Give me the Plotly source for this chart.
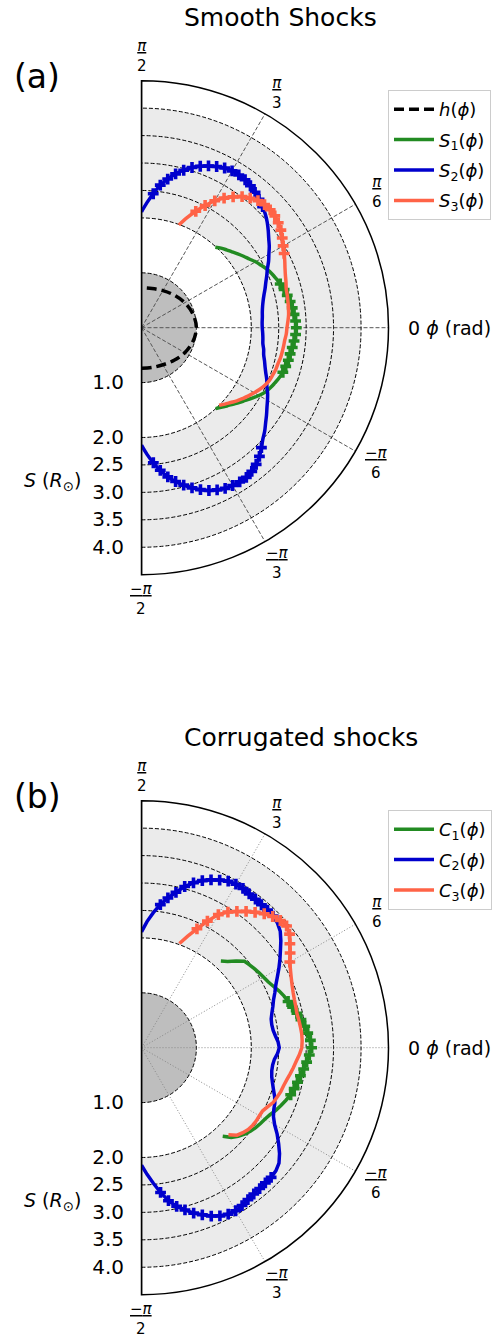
import numpy as np
import plotly.graph_objects as go

FONT = "DejaVu Sans"
GREEN = "#228B22"
BLUE = "#0000CD"
ORANGE = "#FF6347"
BAND_GRAY = "#ebebeb"
SUN_GRAY = "#bebebe"

# ---- axes ----
ANG_TICKS = [-90, -60, -30, 0, 30, 60, 90]
ANG_LABELS = [
    "<u>−<i>π</i></u><br>2",
    "<u>−<i>π</i></u><br>3",
    "<u>−<i>π</i></u><br>6",
    "",
    "<u><i>π</i></u><br>6",
    "<u><i>π</i></u><br>3",
    "<u><i>π</i></u><br>2",
]
R_TICKS = [1.0, 2.0, 2.5, 3.0, 3.5, 4.0]
R_LABELS = ["1.0", "2.0", "2.5", "3.0", "3.5", "4.0"]
R_MAX = 4.5
SUN_RADIUS = 1.0
BAND_INNER = 2.0
BAND_OUTER = 4.0
STEP = 2.5  # angular sampling of the shock fronts (deg)

# ---- h(phi) ----
H_PHI = [-90, -75, -60, -45, -30, -15, 0, 15, 30, 45, 60, 75, 90]
H_R = [0.74, 0.75, 0.78, 0.84, 0.91, 0.97, 1.00, 0.97, 0.91, 0.84, 0.78, 0.74, 0.73]

# ---- smooth shocks (panel a) ----
S1_START = 47.5
S1_R = [1.99, 2.05, 2.10, 2.15, 2.21, 2.27, 2.33, 2.40, 2.46, 2.52, 2.57, 2.61, 2.65,
        2.69, 2.72, 2.75, 2.77, 2.79, 2.81, 2.82, 2.81, 2.79, 2.77, 2.75, 2.74, 2.72,
        2.70, 2.67, 2.63, 2.59, 2.54, 2.47, 2.39, 2.31, 2.24, 2.17, 2.11, 2.05, 2.00]
S1_MARKED = [(-17.5, 17.5)]

S2_START = 90.0
S2_R = [2.11, 2.28, 2.45, 2.62, 2.75, 2.87, 2.97, 3.06, 3.13, 3.19, 3.24, 3.28, 3.30,
        3.30, 3.29, 3.26, 3.22, 3.17, 3.12, 3.06, 2.99, 2.91, 2.83, 2.76, 2.68, 2.61,
        2.53, 2.47, 2.41, 2.36, 2.31, 2.27, 2.24, 2.22, 2.21, 2.20, 2.20,
        2.21, 2.22, 2.23, 2.26, 2.28, 2.32, 2.36, 2.41, 2.47, 2.52, 2.59, 2.65, 2.71,
        2.78, 2.85, 2.93, 3.00, 3.09, 3.18, 3.25, 3.30, 3.33, 3.33, 3.32, 3.30, 3.26,
        3.21, 3.14, 3.06, 2.97, 2.87, 2.76, 2.62, 2.47, 2.31, 2.14]
S2_MARKED = [(45, 85), (-85, -45)]

S3_START = 70.0
S3_R = [1.99, 2.17, 2.34, 2.51, 2.67, 2.80, 2.91, 3.01, 3.08, 3.14, 3.17, 3.18, 3.17,
        3.14, 3.10, 3.04, 2.98, 2.93, 2.88, 2.83, 2.79, 2.76, 2.73, 2.72, 2.71, 2.70,
        2.69, 2.67, 2.65,
        2.64, 2.62, 2.61, 2.60, 2.59, 2.57, 2.56, 2.54, 2.52, 2.48, 2.43, 2.37, 2.31,
        2.25, 2.19, 2.12, 2.06, 2.00]
S3_MARKED = [(27.5, 65)]

# ---- corrugated shocks (panel b) ----
C1_START = 47.5
C1_R = [2.14, 2.22, 2.34, 2.45, 2.48, 2.51, 2.54, 2.57, 2.60, 2.65, 2.71, 2.76, 2.80,
        2.85, 2.90, 2.95, 3.00, 3.04, 3.08, 3.10, 3.06, 3.02, 2.98, 2.94, 2.91, 2.88,
        2.85, 2.80, 2.75, 2.70, 2.64, 2.60, 2.57, 2.54, 2.50, 2.45, 2.39, 2.31, 2.19]
C1_MARKED = [(-17.5, 17.5)]

C2_START = 90.0
C2_R = [2.11, 2.30, 2.47, 2.63, 2.77, 2.90, 3.04, 3.15, 3.24, 3.31, 3.37, 3.42, 3.44,
        3.44, 3.42, 3.41, 3.40, 3.40, 3.39, 3.36, 3.30, 3.20, 3.09, 2.99, 2.89, 2.79,
        2.70, 2.63, 2.56, 2.51, 2.46, 2.42, 2.41, 2.42, 2.45, 2.49, 2.51,
        2.48, 2.43, 2.41, 2.41, 2.43, 2.47, 2.52, 2.58, 2.63, 2.66, 2.71, 2.80, 2.93,
        3.05, 3.17, 3.27, 3.32, 3.34, 3.34, 3.35, 3.36, 3.38, 3.41, 3.43, 3.42, 3.38,
        3.32, 3.24, 3.16, 3.06, 2.96, 2.83, 2.66, 2.48, 2.31, 2.14]
C2_MARKED = [(45, 82.5), (-82.5, -45)]

C3_START = 70.0
C3_R = [2.02, 2.20, 2.39, 2.60, 2.80, 2.93, 3.03, 3.13, 3.22, 3.31, 3.38, 3.43, 3.45,
        3.40, 3.30, 3.21, 3.12, 3.06, 3.01, 2.97, 2.94, 2.92, 2.91, 2.90, 2.91, 2.92,
        2.93, 2.93, 2.92,
        2.88, 2.83, 2.79, 2.75, 2.71, 2.68, 2.66, 2.63, 2.60, 2.54, 2.49, 2.48, 2.48,
        2.47, 2.45, 2.41, 2.36, 2.24]
C3_MARKED = [(30, 65)]

# ---- page geometry ----
W, H = 499, 1338
CX, RPX = 141.5, 247.0          # sector centre x and outer radius (px)
CY_A, CY_B = 327.7, 1047.7      # sector centre y for each panel (px)
ANG_LABEL_PAD = 24.5            # distance of angle labels beyond the rim (px)


def phi_of(start, r):
    return start - STEP * np.arange(len(r))


def px(x):
    return x / W


def py(y):
    return 1 - y / H


def domain(cy):
    return dict(x=[px(CX), px(CX + RPX)], y=[py(cy + RPX), py(cy - RPX)])


fig = go.Figure()


def add_background(subplot):
    fig.add_trace(go.Barpolar(
        r=[BAND_OUTER - BAND_INNER], base=[BAND_INNER], theta=[0], width=[180],
        marker=dict(color=BAND_GRAY, line=dict(width=0)),
        showlegend=False, hoverinfo="skip", subplot=subplot))
    fig.add_trace(go.Barpolar(
        r=[SUN_RADIUS], theta=[0], width=[180],
        marker=dict(color=SUN_GRAY, line=dict(width=0)),
        showlegend=False, hoverinfo="skip", subplot=subplot))


def add_frame(subplot):
    fig.add_trace(go.Scatterpolar(
        r=[R_MAX, 0, R_MAX], theta=[90, 90, -90], mode="lines",
        line=dict(color="black", width=1.5), showlegend=False,
        hoverinfo="skip", subplot=subplot))


def add_shock(subplot, legend, start, r, marked, color, name, shape):
    phi = phi_of(start, r)
    r = np.asarray(r)
    fig.add_trace(go.Scatterpolar(
        r=r, theta=phi, mode="lines", name=name,
        line=dict(color=color, width=3.5, shape=shape),
        legend=legend, legendgroup=legend + name, subplot=subplot))
    sel = np.zeros(len(r), dtype=bool)
    for lo, hi in marked:
        sel |= (phi >= lo - 1e-6) & (phi <= hi + 1e-6)
    fig.add_trace(go.Scatterpolar(
        r=r[sel], theta=phi[sel], mode="markers",
        marker=dict(symbol="cross", size=9, color=color, line=dict(width=0)),
        showlegend=False, legend=legend, legendgroup=legend + name,
        hoverinfo="skip", subplot=subplot))


# panel (a)
add_background("polar")
add_frame("polar2")
fig.add_trace(go.Scatterpolar(
    r=H_R, theta=H_PHI, mode="lines", name="<i>h</i>(<i>ϕ</i>)",
    line=dict(color="black", width=3.5, dash="10px,5px", shape="spline"),
    legend="legend", legendgroup="h", subplot="polar2"))
add_shock("polar2", "legend", S1_START, S1_R, S1_MARKED, GREEN, "<i>S</i><sub>1</sub>(<i>ϕ</i>)", "spline")
add_shock("polar2", "legend", S2_START, S2_R, S2_MARKED, BLUE, "<i>S</i><sub>2</sub>(<i>ϕ</i>)", "spline")
add_shock("polar2", "legend", S3_START, S3_R, S3_MARKED, ORANGE, "<i>S</i><sub>3</sub>(<i>ϕ</i>)", "spline")

# panel (b)
add_background("polar3")
add_frame("polar4")
add_shock("polar4", "legend2", C1_START, C1_R, C1_MARKED, GREEN, "<i>C</i><sub>1</sub>(<i>ϕ</i>)", "linear")
add_shock("polar4", "legend2", C2_START, C2_R, C2_MARKED, BLUE, "<i>C</i><sub>2</sub>(<i>ϕ</i>)", "linear")
add_shock("polar4", "legend2", C3_START, C3_R, C3_MARKED, ORANGE, "<i>C</i><sub>3</sub>(<i>ϕ</i>)", "linear")


def bg_polar(cy):
    hidden = dict(showline=False, showgrid=False, showticklabels=False, ticks="")
    return dict(
        domain=domain(cy), sector=[-90, 90], bgcolor="white",
        angularaxis=dict(direction="counterclockwise", rotation=0, **hidden),
        radialaxis=dict(range=[0, R_MAX], **hidden),
    )


def fg_polar(cy, ang_grid_color, ang_grid_dash):
    return dict(
        domain=domain(cy), sector=[-90, 90], bgcolor="rgba(0,0,0,0)",
        angularaxis=dict(
            direction="counterclockwise", rotation=0,
            tickmode="array", tickvals=ANG_TICKS, showticklabels=False,
            showline=True, linecolor="black", linewidth=1.5,
            showgrid=True, gridcolor=ang_grid_color, griddash=ang_grid_dash,
            gridwidth=0.8, ticks="",
        ),
        radialaxis=dict(
            range=[0, R_MAX], tickmode="array", tickvals=R_TICKS,
            ticktext=R_LABELS, angle=-90, side="clockwise", tickangle=-90,
            showline=False, showgrid=True, gridcolor="black",
            griddash="4px,2px", gridwidth=0.8,
            ticks="outside", ticklen=9, tickcolor="rgba(0,0,0,0)",
            tickfont=dict(family=FONT, size=20, color="black"),
        ),
    )


legend_common = dict(
    xanchor="left", yanchor="top", bgcolor="white", bordercolor="#cccccc",
    borderwidth=1, font=dict(family=FONT, size=18, color="black"),
    tracegroupgap=4, itemwidth=40,
)

annotations = []
for cy, title, tag in [(CY_A, "Smooth Shocks", "(a)"), (CY_B, "Corrugated shocks", "(b)")]:
    annotations += [
        dict(text=title, x=px(182), y=py(cy - 310), xanchor="left", yanchor="middle",
             font=dict(family=FONT, size=25, color="black")),
        dict(text=tag, x=px(37), y=py(cy - 251), xanchor="center", yanchor="middle",
             font=dict(family=FONT, size=33, color="black")),
        dict(text="<i>S</i> (<i>R</i><sub>⊙</sub>)", x=px(52), y=py(cy + 154),
             xanchor="center", yanchor="middle",
             font=dict(family=FONT, size=19, color="black")),
        dict(text="0 <i>ϕ</i> (rad)", x=px(406), y=py(cy), xanchor="left",
             yanchor="middle", font=dict(family=FONT, size=19, color="black")),
    ]
    # angle labels, centred just outside the rim along each tick direction
    for ang, lab in zip(ANG_TICKS, ANG_LABELS):
        if not lab:
            continue
        rad = np.deg2rad(ang)
        rr = RPX + ANG_LABEL_PAD
        annotations.append(dict(
            text=lab, x=px(CX + rr * np.cos(rad)), y=py(cy - rr * np.sin(rad)),
            xanchor="center", yanchor="middle",
            font=dict(family=FONT, size=15, color="black")))

fig.update_layout(
    width=W, height=H, margin=dict(l=0, r=0, t=0, b=0),
    paper_bgcolor="white", plot_bgcolor="white",
    font=dict(family=FONT, color="black"),
    polar=bg_polar(CY_A),
    polar2=fg_polar(CY_A, "#555555", "4px,2px"),
    polar3=bg_polar(CY_B),
    polar4=fg_polar(CY_B, "#888888", "1px,2px"),
    legend=dict(x=px(388), y=py(90), **legend_common),
    legend2=dict(x=px(388), y=py(810), **legend_common),
    annotations=[dict(a, xref="paper", yref="paper", showarrow=False) for a in annotations],
)

fig.write_html("out.html")
